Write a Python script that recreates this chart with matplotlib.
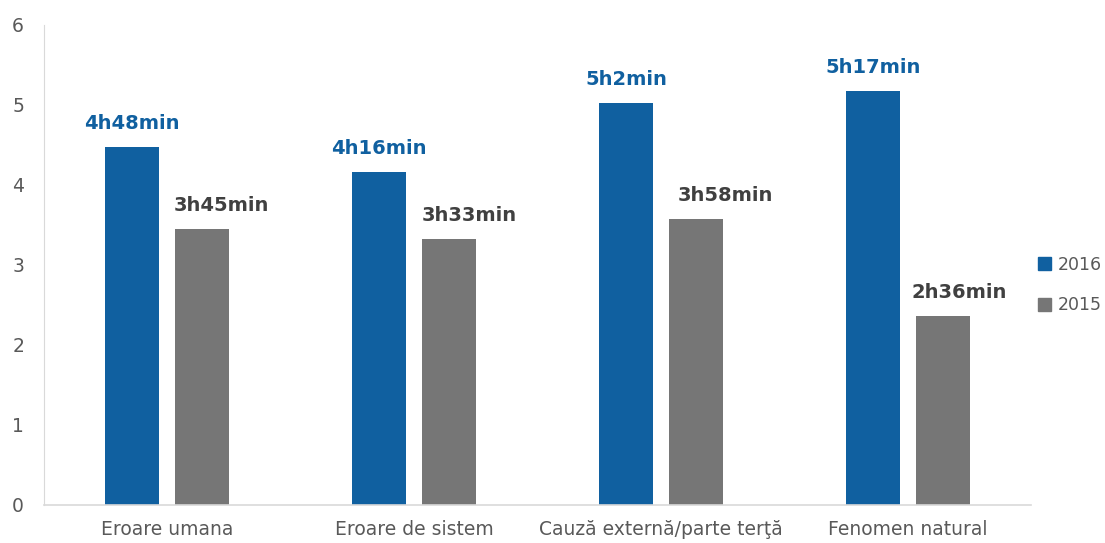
import numpy as np
import matplotlib.pyplot as plt
from matplotlib.patches import Patch

categories = ["Eroare umana", "Eroare de sistem", "Cauză externă/parte terţă", "Fenomen natural"]
values_2016 = [4.48, 4.16, 5.02, 5.17]
values_2015 = [3.45, 3.33, 3.58, 2.36]
labels_2016 = ["4h48min", "4h16min", "5h2min", "5h17min"]
labels_2015 = ["3h45min", "3h33min", "3h58min", "2h36min"]
# the 2015 labels sit a little to the right of their bars in the original
shift_2015 = [19, 20, 29, 16]

blue = "#1060a0"
gray = "#767676"
text_gray = "#595959"

plt.rcParams['font.family'] = ['DejaVu Sans']

fig = plt.figure(figsize=(11.05, 5.43), dpi=100)
ax = fig.add_axes([0.0394, 0.07, 0.894, 0.884])

x = np.arange(len(categories))
w = 0.219
off = 0.142
b1 = ax.bar(x - off, values_2016, w, color=blue)
b2 = ax.bar(x + off, values_2015, w, color=gray)

for rect, lab in zip(b1, labels_2016):
    ax.annotate(lab, (rect.get_x() + rect.get_width() / 2, rect.get_height()),
                xytext=(0, 14), textcoords="offset pixels",
                ha="center", va="bottom", fontsize=14, fontweight="bold", color=blue)
for rect, lab, dx in zip(b2, labels_2015, shift_2015):
    ax.annotate(lab, (rect.get_x() + rect.get_width() / 2, rect.get_height()),
                xytext=(dx, 14), textcoords="offset pixels",
                ha="center", va="bottom", fontsize=14, fontweight="bold", color="#404040")

ax.set_xlim(-0.5, 3.5)
ax.set_ylim(0, 6)
ax.set_xticks(x)
ax.set_xticklabels(categories, fontsize=13.5, color=text_gray)
ax.set_yticks(range(7))
ax.tick_params(axis="y", labelsize=13.5, labelcolor=text_gray, length=0, pad=14)
ax.tick_params(axis="x", length=0, pad=11)

for s in ["top", "right"]:
    ax.spines[s].set_visible(False)
ax.spines["left"].set_color("#d9d9d9")
ax.spines["bottom"].set_color("#d9d9d9")
ax.spines["bottom"].set_linewidth(1.2)

handles = [Patch(color=blue, label="2016"), Patch(color=gray, label="2015")]
fig.legend(handles=handles, loc="center left", bbox_to_anchor=(0.939, 0.475),
           frameon=False, fontsize=12.5, handlelength=0.75, handleheight=0.75,
           labelspacing=1.3, handletextpad=0.4, borderpad=0, borderaxespad=0,
           labelcolor=text_gray)

fig.savefig("out.png", dpi=100)
